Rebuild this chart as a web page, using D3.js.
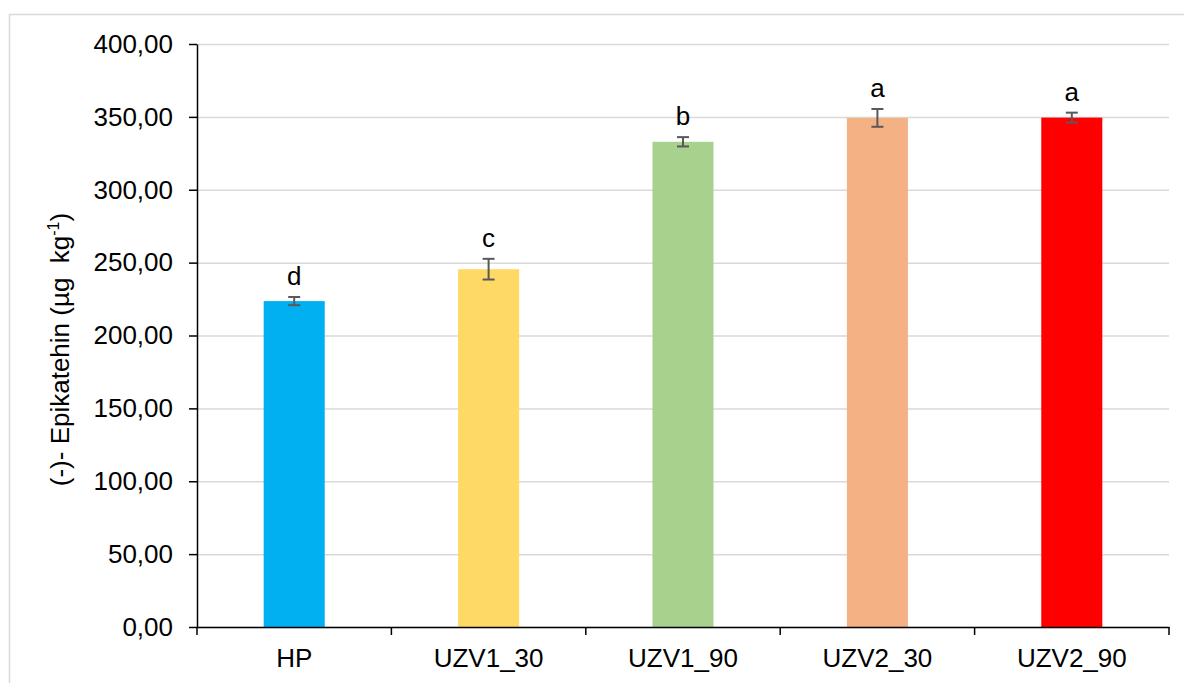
<!DOCTYPE html>
<html>
<head>
<meta charset="utf-8">
<script src="https://cdn.jsdelivr.net/npm/d3@7"></script>
<style>
  body { margin: 0; background: #fff; }
  text { font-family: "Liberation Sans", Arial, sans-serif; fill: #000; }
  .grid line { stroke: #d9d9d9; stroke-width: 1.5; }
  .grid path { display: none; }
  .axis path, .axis line { stroke: #000; stroke-width: 1.5; }
</style>
</head>
<body>
<div id="chart"></div>
<script>
// datos
var categories = ["HP", "UZV1_30", "UZV1_90", "UZV2_30", "UZV2_90"];
var values     = [223.6, 245.5, 332.9, 349.3, 349.5];
var errors     = [2.8, 7.1, 3.2, 6.1, 3.4];
var letters    = ["d", "c", "b", "a", "a"];
var colors     = ["#00b0f0", "#ffd966", "#a9d18e", "#f4b183", "#ff0000"];
var yTicks     = [0, 50, 100, 150, 200, 250, 300, 350, 400];

// dimensiones
var W = 1184, H = 683;
var margin = {top: 44, right: 15, bottom: 56, left: 197},
    width = W - margin.left - margin.right,
    height = H - margin.top - margin.bottom;

// formato con coma decimal
var loc = d3.formatLocale({decimal: ",", thousands: ".", grouping: [3], currency: ["", ""]});
var fmt = loc.format(".2f");

var x = d3.scaleBand().domain(categories).range([0, width]).paddingInner(0.686).paddingOuter(0.343);
var xb = d3.scaleBand().domain(categories).range([0, width]); // para los ticks entre categorias
var y = d3.scaleLinear().domain([0, 400]).range([height, 0]);

var svg = d3.select("#chart").append("svg")
    .attr("width", W)
    .attr("height", H);

// marco exterior
svg.append("rect")
    .attr("x", 9.5).attr("y", 14.5)
    .attr("width", W).attr("height", H)
    .attr("fill", "none")
    .attr("stroke", "#d9d9d9")
    .attr("stroke-width", 1.5);

var vis = svg.append("g")
    .attr("transform", "translate(" + margin.left + "," + margin.top + ")");

// grid
vis.append("g")
    .attr("class", "grid")
    .call(d3.axisLeft(y).tickValues(yTicks).tickSize(-width).tickFormat(""));

// barras
vis.selectAll(".bar")
    .data(values)
  .enter().append("rect")
    .attr("class", "bar")
    .attr("x", function(d, i) { return x(categories[i]); })
    .attr("width", x.bandwidth())
    .attr("y", function(d) { return y(d); })
    .attr("height", function(d) { return height - y(d); })
    .attr("fill", function(d, i) { return colors[i]; });

// barras de error
var eb = vis.selectAll(".err")
    .data(values)
  .enter().append("g")
    .attr("class", "err")
    .attr("transform", function(d, i) { return "translate(" + (x(categories[i]) + x.bandwidth() / 2) + ",0)"; })
    .attr("stroke", "#595959")
    .attr("stroke-width", 2);
eb.append("line")
    .attr("y1", function(d, i) { return y(d - errors[i]); })
    .attr("y2", function(d, i) { return y(d + errors[i]); });
eb.append("line")
    .attr("x1", -6).attr("x2", 6)
    .attr("y1", function(d, i) { return y(d + errors[i]); })
    .attr("y2", function(d, i) { return y(d + errors[i]); });
eb.append("line")
    .attr("x1", -6).attr("x2", 6)
    .attr("y1", function(d, i) { return y(d - errors[i]); })
    .attr("y2", function(d, i) { return y(d - errors[i]); });

// letras
vis.selectAll(".letter")
    .data(letters)
  .enter().append("text")
    .attr("class", "letter")
    .attr("x", function(d, i) { return x(categories[i]) + x.bandwidth() / 2; })
    .attr("y", function(d, i) { return y(values[i] + errors[i]) - 12; })
    .attr("text-anchor", "middle")
    .style("font-size", "26px")
    .text(function(d) { return d; });

// eje y
var gy = vis.append("g")
    .attr("class", "axis")
    .call(d3.axisLeft(y).tickValues(yTicks).tickSizeInner(8).tickSizeOuter(0).tickPadding(16).tickFormat(fmt));
gy.selectAll("text").style("font-size", "26px");

// eje x, con ticks entre categorias
var gx = vis.append("g")
    .attr("class", "axis")
    .attr("transform", "translate(0," + height + ")")
    .call(d3.axisBottom(xb).tickSizeInner(0).tickSizeOuter(0).tickPadding(22));
gx.selectAll("text").style("font-size", "26px");
gx.selectAll(".sep")
    .data(d3.range(categories.length + 1))
  .enter().append("line")
    .attr("class", "sep")
    .attr("x1", function(i) { return i * xb.step(); })
    .attr("x2", function(i) { return i * xb.step(); })
    .attr("y1", 0).attr("y2", 8);

// titulo eje y
var t = svg.append("text")
    .attr("transform", "translate(69," + (margin.top + height / 2 + 14) + ") rotate(-90)")
    .attr("text-anchor", "middle")
    .style("font-size", "26px");
t.append("tspan").text("(-)- Epikatehin (µg\u00a0 kg");
t.append("tspan").attr("dy", -10).style("font-size", "16px").text("-1");
t.append("tspan").attr("dy", 10).text(")");
</script>
</body>
</html>
